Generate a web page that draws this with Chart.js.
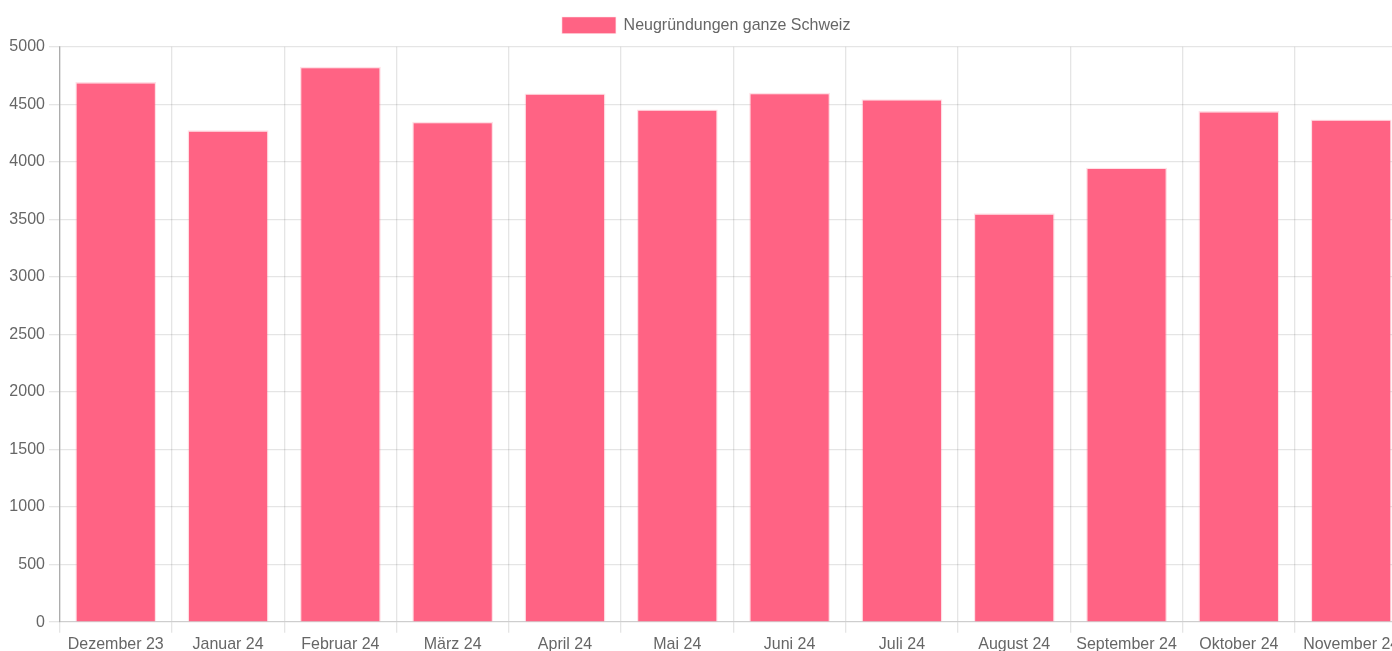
<!DOCTYPE html>
<html>
<head>
<meta charset="utf-8">
<script src="https://cdn.jsdelivr.net/npm/chart.js@4/dist/chart.umd.min.js"></script>
<style>
html,body{margin:0;padding:0;background:#fff;overflow:hidden;width:1392px;height:651px;}
#wrap{position:absolute;left:0;top:0;width:1060px;height:492px;transform:scale(1.33333);transform-origin:0 0;}
</style>
</head>
<body>
<div id="wrap"><canvas id="c"></canvas></div>
<script>
const categories = ["Dezember 23","Januar 24","Februar 24","März 24","April 24","Mai 24","Juni 24","Juli 24","August 24","September 24","Oktober 24","November 24"];
const seriesName = "Neugründungen ganze Schweiz";
const values = [4692, 4273, 4825, 4347, 4594, 4455, 4599, 4544, 3552, 3948, 4440, 4368];
const yTicks = [0, 500, 1000, 1500, 2000, 2500, 3000, 3500, 4000, 4500, 5000];

Chart.defaults.font.family = "'Liberation Sans', Arial, sans-serif";
Chart.defaults.font.size = 12;
Chart.defaults.color = '#666';

new Chart(document.getElementById('c'), {
  type: 'bar',
  data: {
    labels: categories,
    datasets: [{
      label: seriesName,
      data: values,
      backgroundColor: 'rgba(255,99,132,1)',
      borderColor: 'rgba(255,99,132,0.2)',
      borderWidth: 1
    }]
  },
  options: {
    responsive: true,
    maintainAspectRatio: false,
    devicePixelRatio: 4/3,
    animation: false,
    layout: { padding: { top: 3, left: 4, right: 4.5, bottom: 0 } },
    plugins: {
      legend: { display: true, labels: { boxWidth: 40, boxHeight: 12 } },
      tooltip: { enabled: false }
    },
    scales: {
      x: {
        grid: { color: 'rgba(0,0,0,0.1)', offset: true, tickLength: 8 },
        ticks: { maxRotation: 0, autoSkip: false, padding: 1.5 }
      },
      y: {
        min: 0, max: 5000,
        afterBuildTicks: (s) => { s.ticks = yTicks.map(v => ({value: v})); },
        ticks: { callback: (v) => String(v) },
        grid: { color: 'rgba(0,0,0,0.1)', tickLength: 8 },
        border: { color: 'rgba(0,0,0,0.25)' }
      }
    }
  }
});
</script>
</body>
</html>
